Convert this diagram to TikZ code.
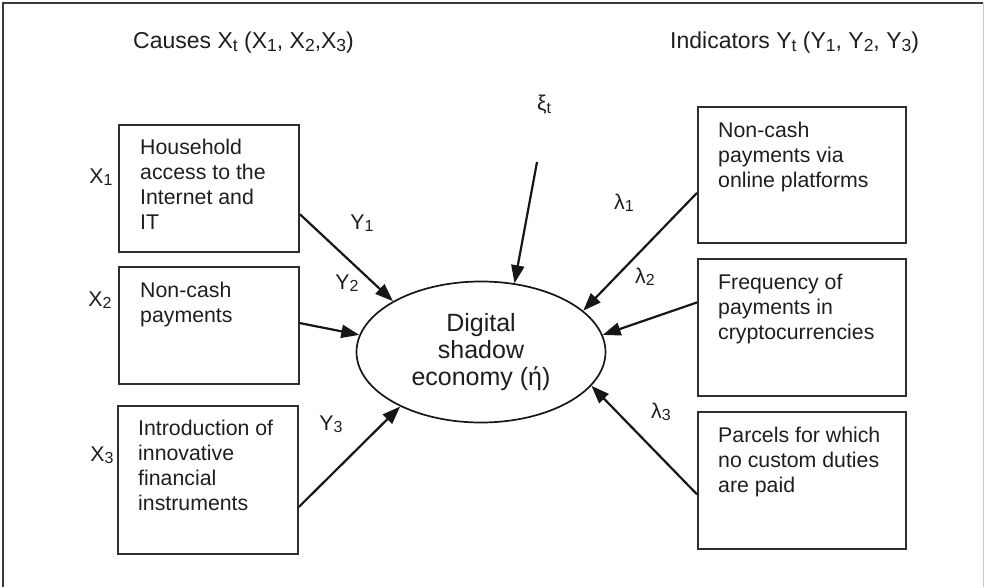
\documentclass[tikz,border=0pt]{standalone}
\usepackage{fontspec}
\setmainfont{Liberation Sans}
\usetikzlibrary{arrows.meta,shapes.geometric,calc}
\newcommand{\sbs}[1]{\raisebox{-2.5pt}{\fontsize{16}{16}\selectfont #1}}
\newcommand{\sbsb}[1]{\raisebox{-2.7pt}{\fontsize{17.5}{17.5}\selectfont #1}}
\definecolor{txt}{HTML}{1E1E1E}
\definecolor{boxc}{HTML}{2E2E2E}
\definecolor{arrc}{HTML}{161616}
\definecolor{framec}{HTML}{3A3A3A}
\definecolor{framelight}{HTML}{CCCCCC}
\begin{document}
\begin{tikzpicture}[x=1pt,y=-1pt,
  box/.style={draw=boxc, line width=1.9pt, rectangle, inner sep=0pt, anchor=north west},
  boxtext/.style={anchor=north west, inner sep=0pt, align=left, font=\fontsize{21.3}{25}\selectfont, text=txt},
  lbl/.style={inner sep=0pt, font=\fontsize{21.3}{25}\selectfont, text=txt},
  ttl/.style={inner sep=0pt, font=\fontsize{23}{27}\selectfont, text=txt},
  arr/.style={line width=2.2pt, draw=arrc, -{Triangle[length=18pt,width=13pt]}},
  ]
\useasboundingbox (0,0) rectangle (986,587);
% frame
\draw[framec, line width=1.4pt] (3,587) -- (3,3) -- (983,3);
\draw[framelight, line width=1pt] (983,3) -- (983,587);

% titles
\node[ttl, anchor=west] (tc) at (133,43) {Causes X\sbsb{t} (X\sbsb{1}, X\sbsb{2},X\sbsb{3})};
\node[ttl, anchor=west] (ti) at (670,43) {Indicators Y\sbsb{t} (Y\sbsb{1}, Y\sbsb{2}, Y\sbsb{3})};
\node[lbl, anchor=west] (xi) at (537,105) {ξ\sbs{t}};

% left boxes
\node[box, minimum width=180pt, minimum height=127pt] (b1) at (118,124) {};
\node[boxtext] (b1t) at (140,139) {Household\\access to the\\Internet and\\IT};
\node[box, minimum width=180pt, minimum height=117pt] (b2) at (118,266) {};
\node[boxtext] (b2t) at (140,282) {Non-cash\\payments};
\node[box, minimum width=180pt, minimum height=148pt] (b3) at (117,405) {};
\node[boxtext] (b3t) at (138,420) {Introduction of\\innovative\\financial\\instruments};

% right boxes
\node[box, minimum width=208pt, minimum height=136pt] (r1) at (697,106) {};
\node[boxtext] (r1t) at (718,122) {Non-cash\\payments via\\online platforms};
\node[box, minimum width=208pt, minimum height=137pt] (r2) at (697,258) {};
\node[boxtext] (r2t) at (718,274) {Frequency of\\payments in\\cryptocurrencies};
\node[box, minimum width=208pt, minimum height=137pt] (r3) at (697,411) {};
\node[boxtext] (r3t) at (718,427) {Parcels for which\\no custom duties\\are paid};

% ellipse
\node[ellipse, draw=arrc, line width=1.7pt, minimum width=249pt, minimum height=141pt, inner sep=0pt,
      align=center, font=\fontsize{25}{27}\selectfont, text=txt] (e) at (481,352) {Digital\\shadow\\economy (ή)};

% side labels
\node[lbl] (lx1) at (101,177) {X\sbs{1}};
\node[lbl] (lx2) at (100,300) {X\sbs{2}};
\node[lbl] (lx3) at (102,455) {X\sbs{3}};
\node[lbl] (ly1) at (362,223) {Y\sbs{1}};
\node[lbl] (ly2) at (347,283) {Y\sbs{2}};
\node[lbl] (ly3) at (331,424) {Y\sbs{3}};
\node[lbl] (ll1) at (624,203) {λ\sbs{1}};
\node[lbl] (ll2) at (645,277) {λ\sbs{2}};
\node[lbl] (ll3) at (661,412) {λ\sbs{3}};

% connector start points
\coordinate (s1) at ($(b1.north east)!0.70!(b1.south east)$);
\coordinate (s2) at ($(b2.north east)!0.48!(b2.south east)$);
\coordinate (s3) at ($(b3.north east)!0.68!(b3.south east)$);
\coordinate (q1) at ($(r1.north west)!0.63!(r1.south west)$);
\coordinate (q2) at ($(r2.north west)!0.32!(r2.south west)$);
\coordinate (q3) at ($(r3.north west)!0.60!(r3.south west)$);
\coordinate (xs) at (537,162);

\draw[arr] (s1) -- (e.150);
\draw[arr] (s2) -- (e.172);
\draw[arr] (s3) -- (e.214);
\draw[arr] (xs) -- (e.64);
\draw[arr] (q1) -- (e.22);
\draw[arr] (q2) -- (e.8.6);
\draw[arr] (q3) -- (e.-17.5);
\end{tikzpicture}
\end{document}
